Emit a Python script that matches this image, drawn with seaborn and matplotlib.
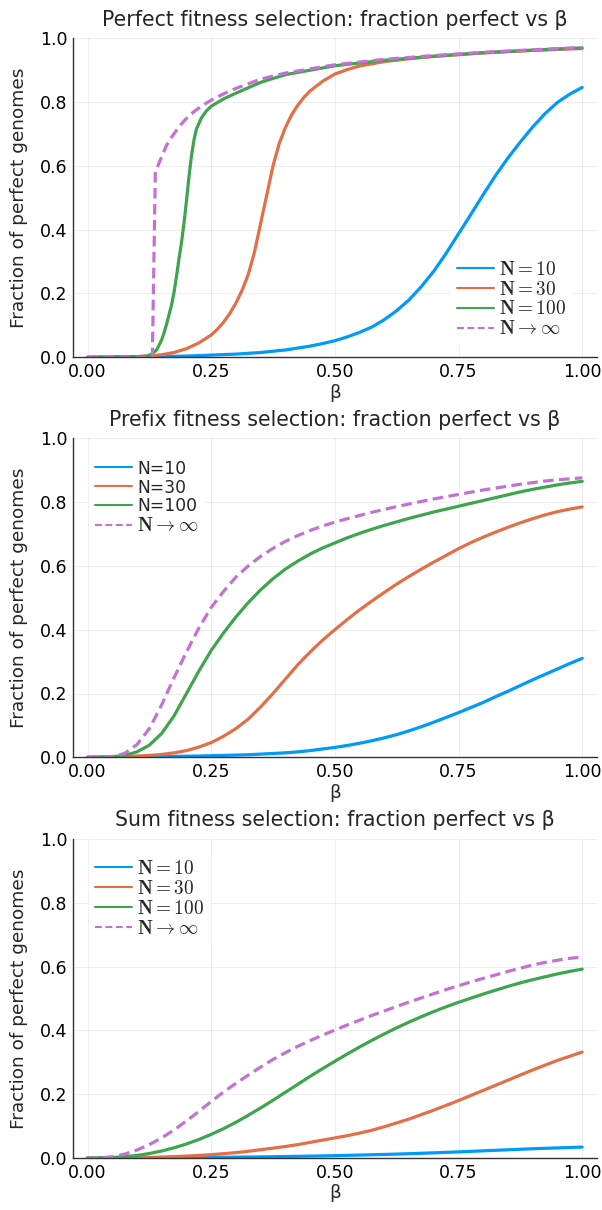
import numpy as np
import pandas as pd
import matplotlib
matplotlib.use("Agg")
import matplotlib.pyplot as plt
import seaborn as sns

sns.set_style("white")
plt.rcParams["font.family"] = ["DejaVu Sans"]
plt.rcParams["mathtext.fontset"] = "cm"

# ---------------- data ----------------
# Panel 1: perfect fitness (each series has its own beta sampling)
perf_beta_n10 = [0, 0.1, 0.2, 0.3, 0.35, 0.4, 0.45, 0.475, 0.5, 0.525, 0.55, 0.575, 0.6, 0.625,
                 0.65, 0.675, 0.7, 0.725, 0.75, 0.775, 0.8, 0.825, 0.85, 0.875, 0.9, 0.925, 0.95,
                 0.975, 1.0]
perf_n10 = [0, 0.001, 0.0038, 0.010, 0.015, 0.023, 0.035, 0.043, 0.052, 0.064, 0.078, 0.095,
            0.118, 0.146, 0.18, 0.222, 0.27, 0.326, 0.387, 0.448, 0.51, 0.57, 0.625, 0.675,
            0.722, 0.764, 0.799, 0.825, 0.846]

perf_beta_n30 = [0, 0.05, 0.1, 0.125, 0.15, 0.175, 0.2, 0.225, 0.25, 0.2625, 0.275, 0.2875, 0.3,
                 0.3125, 0.325, 0.3375, 0.35, 0.3625, 0.375, 0.3875, 0.4, 0.4125, 0.425, 0.4375,
                 0.45, 0.4625, 0.475, 0.5, 0.525, 0.55, 0.6, 0.65, 0.7, 0.8, 0.9, 1.0]
perf_n30 = [0, 0.0005, 0.002, 0.004, 0.008, 0.015, 0.027, 0.045, 0.07, 0.088, 0.11, 0.137, 0.17,
            0.21, 0.26, 0.33, 0.42, 0.51, 0.60, 0.67, 0.72, 0.76, 0.79, 0.815, 0.835, 0.85,
            0.865, 0.888, 0.902, 0.913, 0.927, 0.936, 0.943, 0.954, 0.962, 0.968]

perf_beta_n100 = [0, 0.05, 0.1, 0.12, 0.13, 0.14, 0.15, 0.155, 0.16, 0.165, 0.17, 0.175, 0.18,
                  0.185, 0.19, 0.195, 0.2, 0.205, 0.21, 0.215, 0.22, 0.23, 0.24, 0.25, 0.275,
                  0.3, 0.35, 0.4, 0.5, 0.6, 0.7, 0.8, 0.9, 1.0]
perf_n100 = [0, 0.0005, 0.002, 0.004, 0.01, 0.024, 0.055, 0.078, 0.105, 0.135, 0.165, 0.205,
             0.255, 0.31, 0.36, 0.42, 0.49, 0.565, 0.63, 0.68, 0.715, 0.75, 0.772, 0.787, 0.81,
             0.828, 0.862, 0.886, 0.914, 0.931, 0.944, 0.955, 0.963, 0.97]

perf_beta_inf = [0, 0.1, 0.131, 0.137, 0.138, 0.14, 0.143, 0.15, 0.16, 0.17, 0.18, 0.19, 0.2,
                 0.215, 0.233, 0.25, 0.275, 0.3, 0.35, 0.4, 0.5, 0.6, 0.7, 0.8, 0.9, 1.0]
perf_inf = [0, 0, 0, 0.576, 0.585, 0.592, 0.603, 0.63, 0.665, 0.69, 0.712, 0.732, 0.749, 0.77,
            0.79, 0.806, 0.826, 0.843, 0.872, 0.891, 0.917, 0.934, 0.946, 0.956, 0.964, 0.971]

# Panels 2 and 3 share one beta grid
beta_grid = [0, 0.025, 0.05, 0.075, 0.1, 0.125, 0.15, 0.175, 0.2, 0.225, 0.25, 0.275, 0.3, 0.325,
             0.35, 0.375, 0.4, 0.425, 0.45, 0.475, 0.5, 0.525, 0.55, 0.575, 0.6, 0.625, 0.65,
             0.675, 0.7, 0.725, 0.75, 0.775, 0.8, 0.825, 0.85, 0.875, 0.9, 0.925, 0.95, 0.975, 1.0]

prefix_n10 = [0, 0.0002, 0.0005, 0.001, 0.0015, 0.002, 0.0025, 0.003, 0.0035, 0.004, 0.005, 0.006,
              0.007, 0.008, 0.01, 0.012, 0.014, 0.017, 0.021, 0.026, 0.031, 0.037, 0.044, 0.052,
              0.061, 0.071, 0.083, 0.096, 0.11, 0.125, 0.14, 0.156, 0.172, 0.19, 0.207, 0.225,
              0.243, 0.26, 0.277, 0.294, 0.31]
prefix_n30 = [0, 0.0003, 0.001, 0.002, 0.004, 0.006, 0.009, 0.014, 0.021, 0.032, 0.046, 0.066,
              0.09, 0.12, 0.158, 0.2, 0.245, 0.29, 0.33, 0.367, 0.40, 0.432, 0.462, 0.49, 0.517,
              0.543, 0.567, 0.59, 0.612, 0.633, 0.654, 0.673, 0.69, 0.706, 0.721, 0.735, 0.748,
              0.76, 0.77, 0.778, 0.785]
prefix_n100 = [0, 0.0003, 0.002, 0.006, 0.017, 0.038, 0.075, 0.13, 0.2, 0.27, 0.335, 0.39, 0.44,
               0.485, 0.525, 0.56, 0.59, 0.615, 0.637, 0.656, 0.672, 0.688, 0.702, 0.715, 0.727,
               0.738, 0.749, 0.759, 0.769, 0.778, 0.787, 0.796, 0.805, 0.814, 0.823, 0.832, 0.84,
               0.847, 0.854, 0.86, 0.865]
prefix_inf = [0, 0.0003, 0.002, 0.012, 0.04, 0.09, 0.165, 0.25, 0.33, 0.405, 0.47, 0.52, 0.565,
              0.6, 0.63, 0.655, 0.677, 0.695, 0.711, 0.725, 0.737, 0.748, 0.758, 0.768, 0.777,
              0.786, 0.794, 0.802, 0.81, 0.817, 0.824, 0.831, 0.838, 0.844, 0.85, 0.856, 0.861,
              0.866, 0.87, 0.873, 0.876]

sum_n10 = [0, 0, 0.0001, 0.0002, 0.0003, 0.0005, 0.0007, 0.0009, 0.0012, 0.0015, 0.0018, 0.0022,
           0.0026, 0.003, 0.0035, 0.004, 0.0046, 0.0052, 0.0059, 0.0066, 0.0074, 0.0083, 0.0092,
           0.0102, 0.0112, 0.0123, 0.0135, 0.0148, 0.0162, 0.0177, 0.0192, 0.0208, 0.0225,
           0.0241, 0.0258, 0.0274, 0.029, 0.0303, 0.0316, 0.0329, 0.0342]
sum_n30 = [0, 0, 0.0003, 0.0007, 0.0013, 0.002, 0.003, 0.0043, 0.006, 0.008, 0.0105, 0.0135, 0.017,
           0.021, 0.026, 0.031, 0.036, 0.042, 0.049, 0.056, 0.063, 0.07, 0.078, 0.087, 0.098,
           0.11, 0.122, 0.136, 0.15, 0.165, 0.18, 0.196, 0.212, 0.228, 0.244, 0.26, 0.276, 0.291,
           0.306, 0.319, 0.332]
sum_n100 = [0, 0.0003, 0.0015, 0.004, 0.008, 0.014, 0.022, 0.032, 0.044, 0.058, 0.074, 0.092,
            0.112, 0.134, 0.157, 0.181, 0.206, 0.231, 0.256, 0.28, 0.303, 0.326, 0.348, 0.369,
            0.389, 0.408, 0.426, 0.443, 0.459, 0.474, 0.488, 0.501, 0.514, 0.526, 0.538, 0.549,
            0.559, 0.568, 0.577, 0.585, 0.592]
sum_inf = [0, 0.0005, 0.004, 0.012, 0.025, 0.042, 0.063, 0.088, 0.116, 0.146, 0.177, 0.207, 0.234,
           0.26, 0.285, 0.309, 0.33, 0.35, 0.368, 0.385, 0.401, 0.417, 0.432, 0.447, 0.461,
           0.475, 0.489, 0.502, 0.515, 0.528, 0.54, 0.552, 0.563, 0.574, 0.585, 0.595, 0.605,
           0.613, 0.62, 0.626, 0.63]

titles = ["Perfect fitness selection: fraction perfect vs β",
          "Prefix fitness selection: fraction perfect vs β",
          "Sum fitness selection: fraction perfect vs β"]
labels_math = [r"$\mathbf{N = 10}$", r"$\mathbf{N = 30}$", r"$\mathbf{N = 100}$",
               r"$\mathbf{N} \to \infty$"]
labels_plain = ["N=10", "N=30", "N=100", r"$\mathbf{N} \to \infty$"]
x_ticks = [0.0, 0.25, 0.5, 0.75, 1.0]
x_tick_labels = ["0.00", "0.25", "0.50", "0.75", "1.00"]
y_ticks = [0.0, 0.2, 0.4, 0.6, 0.8, 1.0]
y_tick_labels = ["0.0", "0.2", "0.4", "0.6", "0.8", "1.0"]

colors = ["#009AFA", "#E36F47", "#3EA44E", "#C371D2"]

panels = [
    ([perf_beta_n10, perf_beta_n30, perf_beta_n100, perf_beta_inf],
     [perf_n10, perf_n30, perf_n100, perf_inf], labels_math),
    ([beta_grid] * 4, [prefix_n10, prefix_n30, prefix_n100, prefix_inf], labels_plain),
    ([beta_grid] * 4, [sum_n10, sum_n30, sum_n100, sum_inf], labels_math),
]

# ---------------- layout (pixels) ----------------
W, H = 602, 1210
AX_L, AX_R, AX_H = 72.7, 597.0, 319.0
tops = [38.3, 438.3, 839.0]
# legend: (handle-left px, centre-of-rows px)
leg_pos = [(457.0, 299.0), (95.0, 497.5), (95.0, 898.5)]

fig = plt.figure(figsize=(W / 100, H / 100), dpi=100)

for i, (betas, series, labs) in enumerate(panels):
    top = tops[i]
    ax = fig.add_axes([AX_L / W, (H - top - AX_H) / H, (AX_R - AX_L) / W, AX_H / H])
    for j, (b, vals, lab) in enumerate(zip(betas, series, labs)):
        df = pd.DataFrame({"beta": b, "frac": vals})
        kw = dict(dashes=(3.3, 1.7)) if j == 3 else {}
        sns.lineplot(data=df, x="beta", y="frac", ax=ax, color=colors[j], lw=2.3,
                     label=lab, sort=False, **kw)
    ax.set_xlim(-0.03, 1.03)
    ax.set_ylim(0, 1)
    ax.set_xticks(x_ticks)
    ax.set_xticklabels(x_tick_labels)
    ax.set_yticks(y_ticks)
    ax.set_yticklabels(y_tick_labels)
    ax.grid(True, color="#000000", alpha=0.08, lw=0.6)
    for s in ["top", "right"]:
        ax.spines[s].set_visible(False)
    for s in ["left", "bottom"]:
        ax.spines[s].set_color("#333333")
        ax.spines[s].set_linewidth(1.0)
    ax.tick_params(axis="both", direction="in", length=3.5, width=0.8, labelsize=12.5,
                   colors="#333333", labelcolor="black", pad=4)
    ax.set_xlabel("β", fontsize=13.3, labelpad=2)
    ax.set_ylabel("Fraction of perfect genomes", fontsize=13.3, labelpad=8)
    ax.set_title(titles[i], fontsize=14.8, pad=9)

    fs = 13.9
    bpad = 0.3
    hx, cy = leg_pos[i]
    ax_bottom_px = top + AX_H
    anchor_x = (hx - bpad * fs * 100 / 72 - AX_L) / (AX_R - AX_L)
    anchor_y = (ax_bottom_px - cy) / AX_H
    leg = ax.legend(loc="center left", bbox_to_anchor=(anchor_x, anchor_y), borderaxespad=0,
                    fontsize=fs, frameon=True, facecolor="white", edgecolor="white",
                    framealpha=1.0, handlelength=1.9, handletextpad=0.27, labelspacing=0.05,
                    borderpad=bpad, fancybox=False)
    for t in leg.get_texts():
        if not t.get_text().startswith("$"):
            t.set_fontsize(12.3)
    for ln in leg.get_lines():
        ln.set_linewidth(1.5)

fig.savefig("out.png", dpi=100)
